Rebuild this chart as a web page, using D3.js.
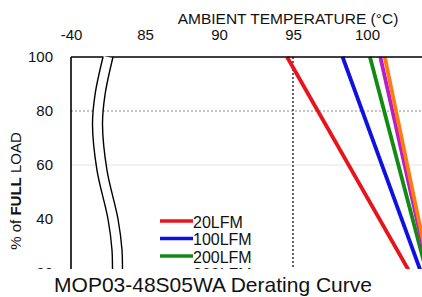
<!DOCTYPE html>
<html><head><meta charset="utf-8">
<script src="https://cdn.jsdelivr.net/npm/d3@7/dist/d3.min.js"></script>
<style>html,body{margin:0;padding:0;background:#fff;overflow:hidden}</style>
</head><body>
<script>
// ---- data ----
const seriesNames = ["20LFM", "100LFM", "200LFM", "300LFM", "400LFM"];
const seriesColors = ["#e8141b", "#1010e0", "#138a13", "#b81ec8", "#ff7a10"];
const startTemps = [94.6, 98.35, 100.2, 100.9, 101.2];   // temp where derating begins (100%)
const endTemps = [105, 105, 105, 105, 105];              // temp at 0% load
const startLoad = [100, 100, 100, 100, 100];
const endLoad = [0, 0, 0, 0, 0];
const xTickValues = [80, 85, 90, 95, 100];
const xTickLabels = ["-40", "85", "90", "95", "100"];
const yTickValues = [20, 40, 60, 80, 100];

const W = 422, H = 297, CLIPH = 269;
const svg = d3.select("body").append("svg").attr("width", W).attr("height", H)
  .style("font-family", "Arial, 'Liberation Sans', sans-serif");

const x = d3.scaleLinear().domain([80, 105]).range([71, 441]);
const y = d3.scaleLinear().domain([0, 100]).range([327, 57]);

svg.append("defs").append("clipPath").attr("id", "clipChart")
  .append("rect").attr("x", 0).attr("y", 0).attr("width", W).attr("height", CLIPH);
svg.append("defs").append("clipPath").attr("id", "clipPlot")
  .append("rect").attr("x", x(80)).attr("y", y(100) - 3).attr("width", W).attr("height", CLIPH - y(100) + 3);

const chart = svg.append("g").attr("clip-path", "url(#clipChart)");

// gridlines
chart.append("line").attr("x1", x(80)).attr("x2", W).attr("y1", y(60)).attr("y2", y(60))
  .attr("stroke", "#e4e4e4").attr("stroke-width", 1.2);
chart.append("line").attr("x1", x(80)).attr("x2", W).attr("y1", y(80)).attr("y2", y(80))
  .attr("stroke", "#8a8a8a").attr("stroke-width", 1).attr("stroke-dasharray", "2,2");
chart.append("line").attr("x1", x(95)).attr("x2", x(95)).attr("y1", y(100)).attr("y2", y(0))
  .attr("stroke", "#111").attr("stroke-width", 1.3).attr("stroke-dasharray", "2,2");

// series lines
const plot = chart.append("g").attr("clip-path", "url(#clipPlot)");
seriesNames.forEach((n, i) => {
  const pts = [[startTemps[i], startLoad[i]], [endTemps[i], endLoad[i]]];
  plot.append("path").datum(pts)
    .attr("d", d3.line().x(d => x(d[0])).y(d => y(d[1])))
    .attr("fill", "none").attr("stroke", seriesColors[i]).attr("stroke-width", 3.8);
});

// frame: top + left
chart.append("line").attr("x1", x(80)).attr("x2", W).attr("y1", y(100)).attr("y2", y(100))
  .attr("stroke", "#000").attr("stroke-width", 1.6);
chart.append("line").attr("x1", x(80)).attr("x2", x(80)).attr("y1", y(100)).attr("y2", y(0))
  .attr("stroke", "#000").attr("stroke-width", 1.6);

// axis break (decorative wavy lines)
const breakPts = [[32, 100], [24, 86], [21.5, 75], [26, 58], [37, 40], [41, 28.5], [41.5, 21], [41.5, 0]];
const bl = off => d3.line().curve(d3.curveCatmullRom)
  .x(d => x(80) + d[0] + off).y(d => y(d[1]))(breakPts);
chart.append("path").attr("d", bl(5)).attr("fill", "none").attr("stroke", "#fff").attr("stroke-width", 9);
chart.append("path").attr("d", bl(0)).attr("fill", "none").attr("stroke", "#000").attr("stroke-width", 1.4);
chart.append("path").attr("d", bl(10)).attr("fill", "none").attr("stroke", "#000").attr("stroke-width", 1.4);

// top axis labels
const xAxis = d3.axisTop(x).tickValues(xTickValues)
  .tickFormat((d, i) => xTickLabels[i]).tickSize(0).tickPadding(0);
const gx = chart.append("g").attr("transform", "translate(0,40)").call(xAxis);
gx.select(".domain").remove();
gx.selectAll("text").attr("font-size", 15).attr("fill", "#111").attr("font-family", "Arial, 'Liberation Sans', sans-serif")
  .attr("dy", 0);
chart.append("text").attr("x", 288).attr("y", 24).attr("text-anchor", "middle")
  .attr("font-size", 15.5).attr("fill", "#111").text("AMBIENT TEMPERATURE (°C)");

// left axis labels
const yAxis = d3.axisLeft(y).tickValues(yTickValues).tickSize(0).tickPadding(0);
const gy = chart.append("g").attr("transform", "translate(53,0)").call(yAxis);
gy.select(".domain").remove();
gy.selectAll("text").attr("font-size", 15).attr("fill", "#111").attr("font-family", "Arial, 'Liberation Sans', sans-serif");

const yl = chart.append("text").attr("transform", "translate(21,191) rotate(-90)")
  .attr("text-anchor", "middle").attr("font-size", 15).attr("fill", "#111");
yl.append("tspan").text("% of ");
yl.append("tspan").attr("font-weight", "bold").text("FULL");
yl.append("tspan").text(" LOAD");

// legend (entries below the visible crop are not drawn)
const lg = chart.append("g");
seriesNames.forEach((n, i) => {
  const ly = 221 + i * 17.5;
  if (ly > CLIPH + 8) return;
  lg.append("line").attr("x1", 160).attr("x2", 193).attr("y1", ly).attr("y2", ly)
    .attr("stroke", seriesColors[i]).attr("stroke-width", 3.6);
  lg.append("text").attr("x", 193).attr("y", ly + 6.5).attr("font-size", 16).attr("fill", "#111").text(n);
});

// title
svg.append("text").attr("x", 213).attr("y", 292).attr("text-anchor", "middle")
  .attr("font-size", 21).attr("fill", "#111").text("MOP03-48S05WA Derating Curve");
</script>
</body></html>
